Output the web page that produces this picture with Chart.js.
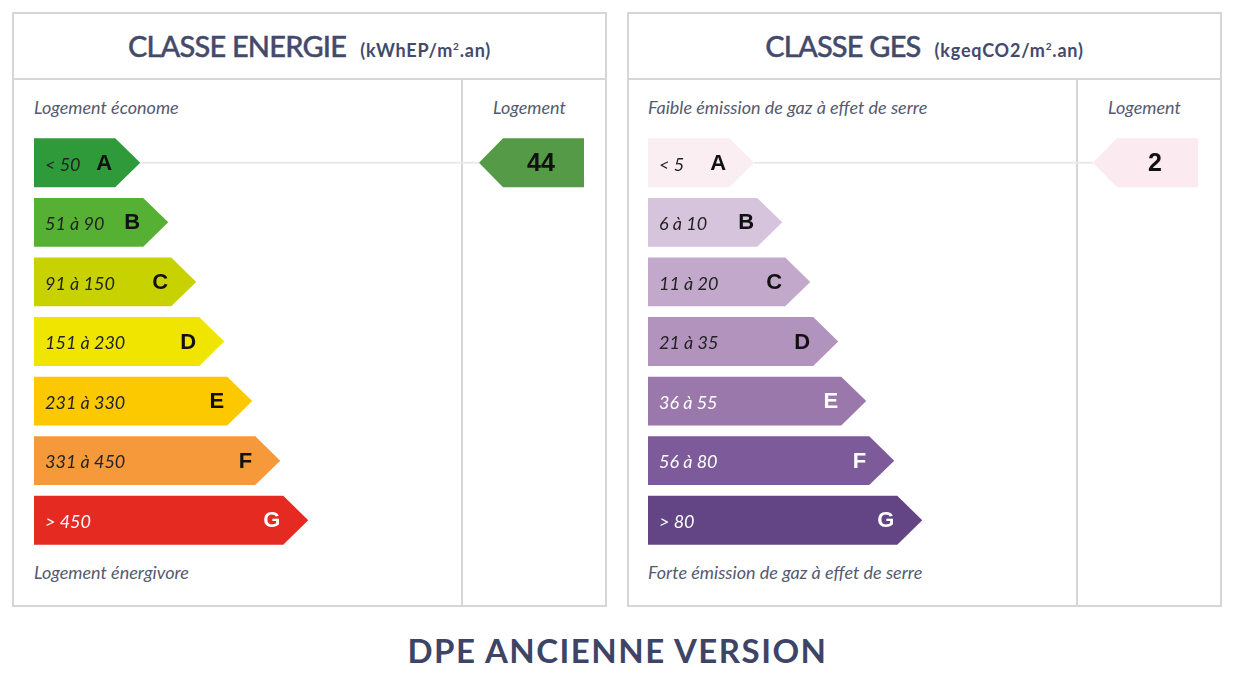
<!DOCTYPE html>
<html><head><meta charset="utf-8">
<script src="https://cdn.jsdelivr.net/npm/chart.js"></script>
<style>
body{margin:0;width:1235px;height:690px;background:#fff;position:relative;font-family:Lato,sans-serif;overflow:hidden}
.panel{position:absolute;top:12px;width:595px;height:595px;border:2px solid #d6d6d6;box-sizing:border-box}
.hd{position:absolute;left:0;right:0;top:0;height:64px;border-bottom:2px solid #d6d6d6;text-align:center;line-height:64px;color:#434a6b}
.hd .t{font-size:29px;letter-spacing:-0.8px;font-weight:500;-webkit-text-stroke:0.4px #434a6b}
.hd .u{font-size:18px;font-weight:bold;margin-left:14px;letter-spacing:0.8px}
.vd{position:absolute;top:64px;bottom:0;width:2px;background:#d6d6d6}
.lb{position:absolute;font-style:italic;font-size:18px;color:#555a70}
canvas{position:absolute}
#foot{position:absolute;left:0;width:1235px;top:630px;text-align:center;font-size:33px;font-weight:bold;color:#3d4466;letter-spacing:1.5px}
</style></head><body>
<div class="panel" style="left:12px"><div class="hd"><span class="t">CLASSE ENERGIE</span><span class="u">(kWhEP/m<sup style="font-size:10px">2</sup>.an)</span></div><div class="vd" style="left:447px"></div>
<div class="lb" style="left:20px;top:82px">Logement économe</div><div class="lb" style="left:479px;top:82px">Logement</div><div class="lb" style="left:20px;top:547px">Logement énergivore</div></div>
<div class="panel" style="left:627px"><div class="hd"><span class="t">CLASSE GES</span><span class="u">(kgeqCO2/m<sup style="font-size:10px">2</sup>.an)</span></div><div class="vd" style="left:447px"></div>
<div class="lb" style="left:19px;top:82px">Faible émission de gaz à effet de serre</div><div class="lb" style="left:479px;top:82px">Logement</div><div class="lb" style="left:19px;top:547px">Forte émission de gaz à effet de serre</div></div>
<canvas id="c1" style="left:34px;top:133px" width="566" height="417"></canvas>
<canvas id="c2" style="left:648px;top:133px" width="566" height="417"></canvas>
<div id="foot">DPE ANCIENNE VERSION</div>
<script>
const classes = ['A','B','C','D','E','F','G'];
const barSteps = [1,2,3,4,5,6,7];
const energyRanges = ['< 50','51 à 90','91 à 150','151 à 230','231 à 330','331 à 450','> 450'];
const energyColors = ['#2e9a3a','#55b033','#c8d200','#f0e500','#fcc800','#f6993b','#e52a22'];
const energyText = ['#222','#222','#222','#222','#222','#222','#fff'];
const energyLetter = ['#111','#111','#111','#111','#111','#111','#fff'];
const energyValue = 44, energyClass = 0, energyIndColor = '#559a46';
const gesRanges = ['< 5','6 à 10','11 à 20','21 à 35','36 à 55','56 à 80','> 80'];
const gesColors = ['#fbeef2','#d6c3dc','#c2a8cb','#b293bd','#9a78ac','#7d5a9a','#634585'];
const gesText = ['#222','#222','#222','#222','#fff','#fff','#fff'];
const gesLetter = ['#111','#111','#111','#111','#fff','#fff','#fff'];
const gesValue = 2, gesClass = 0, gesIndColor = '#fbeaef';
const xMin = -1.9, xMax = 18.31;

function make(id, ranges, colors, tcol, lcol, value, cls, indColor){
  const plugin = {id:'arrows'+id, afterDatasetsDraw(chart){
    const ctx = chart.ctx, meta = chart.getDatasetMeta(0), ca = chart.chartArea;
    const tip = 25;
    meta.data.forEach((b,i)=>{
      const h = b.height, top = b.y-h/2, x0 = b.base, x1 = b.x;
      ctx.fillStyle = colors[i];
      ctx.beginPath(); ctx.moveTo(x0,top); ctx.lineTo(x1,top); ctx.lineTo(x1+tip,b.y); ctx.lineTo(x1,top+h); ctx.lineTo(x0,top+h); ctx.closePath(); ctx.fill();
      ctx.textBaseline='middle';
      ctx.fillStyle = tcol[i]; ctx.font='italic 18px Lato'; ctx.textAlign='left';
      ctx.fillText(ranges[i], x0+11, b.y+2);
      ctx.fillStyle = lcol[i]; ctx.font='bold 22px "Liberation Sans"'; ctx.textAlign='right';
      ctx.fillText(classes[i], x1-3, b.y+1);
    });
    const b = meta.data[cls], h=b.height, top=b.y-h/2;
    const r = ca.right-16, l = r-105;
    ctx.strokeStyle='#eaeaea'; ctx.lineWidth=2;
    ctx.beginPath(); ctx.moveTo(b.x+tip,b.y); ctx.lineTo(l,b.y); ctx.stroke();
    ctx.fillStyle=indColor;
    ctx.beginPath(); ctx.moveTo(l,b.y); ctx.lineTo(l+24,top); ctx.lineTo(r,top); ctx.lineTo(r,top+h); ctx.lineTo(l+24,top+h); ctx.closePath(); ctx.fill();
    ctx.fillStyle='#111'; ctx.font='bold 25px "Liberation Sans"'; ctx.textAlign='center'; ctx.textBaseline='middle';
    ctx.fillText(String(value), l+62, b.y+1);
  }};
  new Chart(document.getElementById(id),{type:'bar',
    data:{labels:classes,datasets:[{data:barSteps,base:xMin,backgroundColor:'rgba(0,0,0,0)',categoryPercentage:1,barPercentage:0.82}]},
    options:{indexAxis:'y',responsive:false,animation:false,layout:{padding:0},
      plugins:{legend:{display:false},tooltip:{enabled:false}},
      scales:{x:{display:false,min:xMin,max:xMax},y:{display:false}}},
    plugins:[plugin]});
}
make('c1',energyRanges,energyColors,energyText,energyLetter,energyValue,energyClass,energyIndColor);
make('c2',gesRanges,gesColors,gesText,gesLetter,gesValue,gesClass,gesIndColor);
</script></body></html>
